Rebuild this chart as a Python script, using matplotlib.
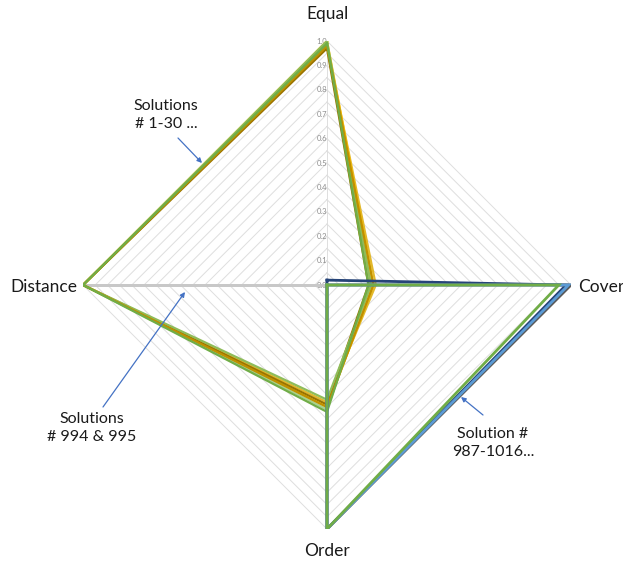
import numpy as np
import matplotlib
matplotlib.use("Agg")
import matplotlib.pyplot as plt

plt.rcParams['font.family'] = ['Lato', 'DejaVu Sans']

# Radar axes, clockwise from the top
axis_labels = ["Equal", "Cover", "Order", "Distance"]

# Solutions 1-30: high Equal and Distance, low Cover, mid Order
group_low_cover = [
    [0.98, 0.20, 0.48, 1.0],
    [1.00, 0.19, 0.50, 1.0],
    [0.99, 0.18, 0.51, 1.0],
    [0.97, 0.17, 0.49, 1.0],
    [1.00, 0.18, 0.47, 1.0],
    [0.98, 0.19, 0.50, 1.0],
    [0.99, 0.17, 0.52, 1.0],
]
group_low_cover_colors = ["#E2B82C", "#FFC000", "#A9D18E", "#997300",
                          "#8FBC5A", "#BF9000", "#70AD47"]

# Solutions 987-1016: full Cover and Order, nothing else
group_high_cover = [
    [0.02, 0.98, 1.00, 0.0],
    [0.00, 1.00, 1.00, 0.0],
    [0.00, 0.99, 1.00, 0.0],
    [0.00, 0.95, 1.00, 0.0],
]
group_high_cover_colors = ["#264478", "#595959", "#5B9BD5", "#70AD47"]

# Solutions 994 & 995: Distance only
group_distance = [
    [0.0, 0.0, 0.0, 1.0],
    [0.0, 0.0, 0.0, 0.99],
]
group_distance_colors = ["#D6C4BC", "#C8C8C8"]

tick_values = [round(0.1 * i, 1) for i in range(11)]

W, H = 623, 563
fig = plt.figure(figsize=(W / 100, H / 100), dpi=100)
cx, cy, R = 327, 285, 244
ax = fig.add_axes([(cx - R) / W, (H - cy - R) / H, 2 * R / W, 2 * R / H],
                  projection="polar")
ax.set_theta_offset(np.pi / 2)
ax.set_theta_direction(-1)
ax.set_ylim(0, 1)
ax.grid(False)
ax.spines["polar"].set_visible(False)
ax.set_xticks([])
ax.set_yticks([])
ax.patch.set_alpha(0)

angles = np.linspace(0, 2 * np.pi, len(axis_labels), endpoint=False)
closed = np.append(angles, angles[0])

# polygon grid rings every 0.05
for r in np.arange(0.05, 1.0001, 0.05):
    ax.plot(closed, [r] * len(closed), color="#DEDEDE", lw=0.7, zorder=1)
for a in angles:
    ax.plot([a, a], [0, 1], color="#DEDEDE", lw=0.7, zorder=1)

def draw_group(rows, colors, lw, z):
    for vals, col in zip(rows, colors):
        v = np.append(vals, vals[0])
        ax.plot(closed, v, color=col, lw=lw, solid_joinstyle="miter", zorder=z)

draw_group(group_distance, group_distance_colors, 2.0, 3)
draw_group(group_low_cover, group_low_cover_colors, 1.6, 4)
draw_group(group_high_cover, group_high_cover_colors, 2.0, 5)

# radial tick labels along the Equal axis
for t in tick_values:
    ax.text(0, t, f"{t:.1f}", fontsize=5.5, color="#8C8C8C",
            ha="right", va="center", zorder=2)

def fx(px):
    return px / W

def fy(py):
    return 1 - py / H

lab_kw = dict(fontsize=12.5, color="#1A1A1A")
fig.text(fx(327), fy(14), "Equal", ha="center", va="center", **lab_kw)
fig.text(fx(578), fy(287), "Cover", ha="left", va="center", **lab_kw)
fig.text(fx(327), fy(551), "Order", ha="center", va="center", **lab_kw)
fig.text(fx(77), fy(287), "Distance", ha="right", va="center", **lab_kw)

note_kw = dict(fontsize=11.5, color="#1A1A1A", ha="center", va="center",
               linespacing=1.3)
arrow_kw = dict(arrowstyle="-|>", color="#4472C4", lw=0.9,
                mutation_scale=7, shrinkA=0, shrinkB=0)

fig.text(fx(166), fy(115), "Solutions\n# 1-30 ...", **note_kw)
fig.text(fx(92), fy(428), "Solutions\n# 994 & 995", **note_kw)
fig.text(fx(493), fy(443), "Solution #\n987-1016...", **note_kw)

for tail, head in [((178, 138), (202, 163)),
                   ((103, 407), (185, 292)),
                   ((483, 415), (461, 397))]:
    fig.add_artist(matplotlib.patches.FancyArrowPatch(
        (fx(tail[0]), fy(tail[1])), (fx(head[0]), fy(head[1])),
        transform=fig.transFigure, **arrow_kw))

fig.savefig("out.png", dpi=100, facecolor="white")
